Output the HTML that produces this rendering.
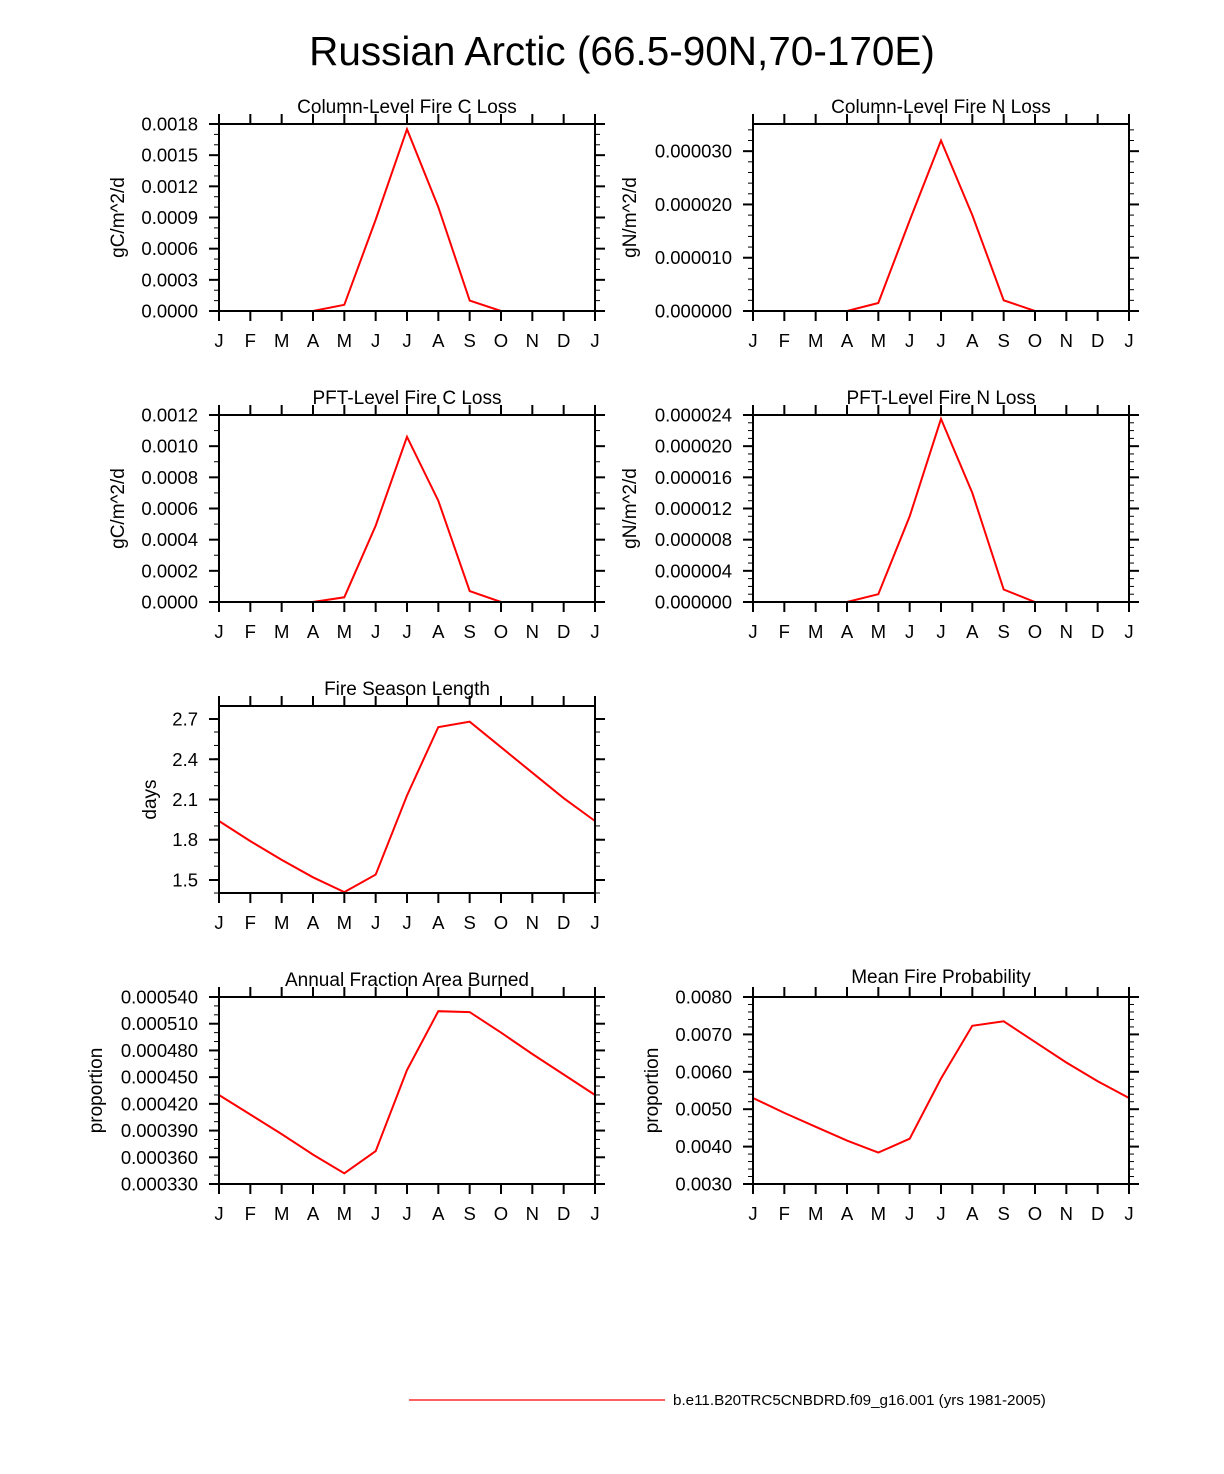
<!DOCTYPE html>
<html><head><meta charset="utf-8"><style>
body{margin:0;background:#fff;}
svg{display:block;font-family:"Liberation Sans",sans-serif;}
</style></head><body>
<svg id="c" width="1224" height="1474" viewBox="0 0 1224 1474" xmlns="http://www.w3.org/2000/svg">
<text x="622" y="65" font-size="40.5" text-anchor="middle">Russian Arctic (66.5-90N,70-170E)</text>
<line x1="409" y1="1400" x2="665" y2="1400" stroke="#f00" stroke-width="1.2"/>
<text x="673" y="1405" font-size="15.2">b.e11.B20TRC5CNBDRD.f09_g16.001 (yrs 1981-2005)</text>
</svg>
<script>
const months = ["J","F","M","A","M","J","J","A","S","O","N","D","J"];
const colC = [0,0,0,0,0.00006,0.00088,0.00175,0.00100,0.00010,0,0,0,0];
const colN = [0,0,0,0,0.0000015,0.000017,0.000032,0.000018,0.000002,0,0,0,0];
const pftC = [0,0,0,0,0.00003,0.00049,0.00106,0.00065,0.00007,0,0,0,0];
const pftN = [0,0,0,0,0.000001,0.000011,0.0000235,0.000014,0.0000016,0,0,0,0];
const seasonLen = [1.94,1.79,1.65,1.52,1.41,1.54,2.13,2.64,2.68,2.49,2.30,2.11,1.94];
const areaBurned = [0.000430,0.000408,0.000386,0.000363,0.000342,0.000367,0.000458,0.000524,0.000523,0.000500,0.000476,0.000453,0.000430];
const fireProb = [0.0053,0.0049,0.00453,0.00416,0.00384,0.00421,0.00582,0.00723,0.00735,0.0068,0.00625,0.00575,0.0053];
const yTicks1 = ["0.0000","0.0003","0.0006","0.0009","0.0012","0.0015","0.0018"];
const yTicks2 = ["0.000000","0.000010","0.000020","0.000030"];
const yTicks3 = ["0.0000","0.0002","0.0004","0.0006","0.0008","0.0010","0.0012"];
const yTicks4 = ["0.000000","0.000004","0.000008","0.000012","0.000016","0.000020","0.000024"];
const yTicks5 = ["1.5","1.8","2.1","2.4","2.7"];
const yTicks6 = ["0.000330","0.000360","0.000390","0.000420","0.000450","0.000480","0.000510","0.000540"];
const yTicks7 = ["0.0030","0.0040","0.0050","0.0060","0.0070","0.0080"];

const NS="http://www.w3.org/2000/svg";
const svg=document.getElementById('c');
function mk(tag,attrs,parent){const e=document.createElementNS(NS,tag);for(const k in attrs)e.setAttribute(k,attrs[k]);(parent||svg).appendChild(e);return e;}

function panel(name,x0,y0,title,ylabel,ymin,ymax,ticks,minorStep,data,ylabX,titleDy){
  const w=376,h=187,x1=x0+w,y1=y0+h;
  const g=mk('g',{});
  
  
  const xs=i=>x0+i*w/12;
  const ys=v=>y1-(v-ymin)/(ymax-ymin)*h;
  const t=mk('text',{x:x0+w/2,y:y0-11+(titleDy||0),'font-size':19,'text-anchor':'middle'},g);t.textContent=title;
  
  
  const nMin=Math.round((ymax-ymin)/minorStep);
  for(let k=0;k<=nMin;k++){const yy=ys(ymin+k*minorStep);
    if(yy<y0-0.5)continue;
    mk('line',{x1:x0-5,y1:yy,x2:x0,y2:yy,stroke:'#000','stroke-width':1},g);
    mk('line',{x1:x1,y1:yy,x2:x1+5,y2:yy,stroke:'#000','stroke-width':1},g);}
  ticks.forEach(s=>{const v=parseFloat(s),yy=ys(v);
    mk('line',{x1:x0-10,y1:yy,x2:x0,y2:yy,stroke:'#000','stroke-width':2},g);
    mk('line',{x1:x1,y1:yy,x2:x1+10,y2:yy,stroke:'#000','stroke-width':2},g);
    const l=mk('text',{x:x0-21,y:yy+6.5,'font-size':18.5,'text-anchor':'end'},g);l.textContent=s;
    
    });
  months.forEach((m,i)=>{const xx=xs(i);
    mk('line',{x1:xx,y1:y1,x2:xx,y2:y1+10,stroke:'#000','stroke-width':2},g);
    mk('line',{x1:xx,y1:y0-10,x2:xx,y2:y0,stroke:'#000','stroke-width':2},g);
    const l=mk('text',{x:xx,y:y1+36,'font-size':18.5,'text-anchor':'middle'},g);l.textContent=m;
    
    });
  const yl=mk('text',{x:ylabX,y:y0+h/2,'font-size':19,'text-anchor':'middle',transform:`rotate(-90 ${ylabX} ${y0+h/2})`},g);yl.textContent=ylabel;
  
  
  const pts=data.map((v,i)=>xs(i).toFixed(1)+','+ys(v).toFixed(1)).join(' ');
  const pl=mk('polyline',{points:pts,fill:'none',stroke:'#f00','stroke-width':2},g);
  
  
  const r=mk('rect',{x:x0,y:y0,width:w,height:h,fill:'none',stroke:'#000','stroke-width':2},g);
  
  
}
panel('column-c-loss-panel',219,124,'Column-Level Fire C Loss','gC/m^2/d',0,0.0018,yTicks1,0.0001,colC,124);
panel('column-n-loss-panel',753,124,'Column-Level Fire N Loss','gN/m^2/d',0,0.0000351,yTicks2,0.000002,colN,636);
panel('pft-c-loss-panel',219,415,'PFT-Level Fire C Loss','gC/m^2/d',0,0.0012,yTicks3,0.0001,pftC,124);
panel('pft-n-loss-panel',753,415,'PFT-Level Fire N Loss','gN/m^2/d',0,0.000024,yTicks4,0.000001,pftN,636);
panel('fire-season-panel',219,706,'Fire Season Length','days',1.403,2.797,yTicks5,0.1,seasonLen,156);
panel('area-burned-panel',219,997,'Annual Fraction Area Burned','proportion',0.00033,0.00054,yTicks6,0.00001,areaBurned,102);
panel('fire-probability-panel',753,997,'Mean Fire Probability','proportion',0.003,0.008,yTicks7,0.0002,fireProb,658,-3);
</script>
</body></html>
